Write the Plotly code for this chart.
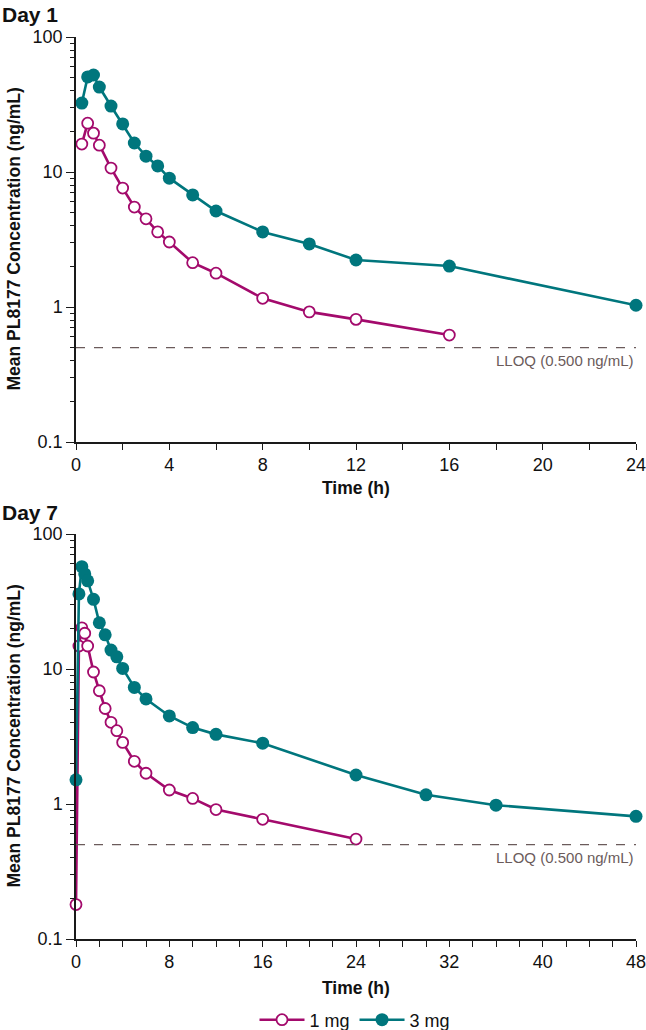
import plotly.graph_objects as go
from plotly.subplots import make_subplots

# ---- Data ----
day1_time_1mg = [0.25, 0.5, 0.75, 1, 1.5, 2, 2.5, 3, 3.5, 4, 5, 6, 8, 10, 12, 16]
day1_conc_1mg = [16.1, 23.0, 19.4, 15.8, 10.7, 7.6, 5.5, 4.5, 3.6, 3.03, 2.13, 1.78, 1.16, 0.92, 0.81, 0.62]
day1_time_3mg = [0.25, 0.5, 0.75, 1, 1.5, 2, 2.5, 3, 3.5, 4, 5, 6, 8, 10, 12, 16, 24]
day1_conc_3mg = [32.4, 50.6, 52.3, 42.6, 30.8, 22.7, 16.4, 13.1, 11.1, 9.0, 6.76, 5.14, 3.6, 2.93, 2.23, 2.01, 1.03]

day7_time_1mg = [0, 0.25, 0.5, 0.75, 1, 1.5, 2, 2.5, 3, 3.5, 4, 5, 6, 8, 10, 12, 16, 24]
day7_conc_1mg = [0.18, 14.8, 20.2, 18.4, 14.8, 9.5, 6.9, 5.1, 4.03, 3.49, 2.86, 2.07, 1.69, 1.27, 1.10, 0.91, 0.77, 0.55]
day7_time_3mg = [0, 0.25, 0.5, 0.75, 1, 1.5, 2, 2.5, 3, 3.5, 4, 5, 6, 8, 10, 12, 16, 24, 30, 36, 48]
day7_conc_3mg = [1.51, 36.0, 57.3, 50.6, 45.0, 32.8, 22.0, 17.9, 13.8, 12.3, 10.1, 7.3, 6.0, 4.49, 3.68, 3.28, 2.82, 1.64, 1.17, 0.98, 0.81]

lloq = 0.5
lloq_label = "LLOQ (0.500 ng/mL)"
panel_titles = ["Day 1", "Day 7"]
y_title = "Mean PL8177 Concentration (ng/mL)"
x_title = "Time (h)"
series_names = ["1 mg", "3 mg"]
y_ticks = [0.1, 1, 10, 100]
y_ticklabels = ["0.1", "1", "10", "100"]
day1_xticks = [0, 4, 8, 12, 16, 20, 24]
day7_xticks = [0, 8, 16, 24, 32, 40, 48]

MAGENTA = "#A30A6C"
TEAL = "#00767D"
LLOQ_COL = "#6B5B5B"
FONT = "Liberation Sans, Arial, Helvetica, sans-serif"
AX = "#1a1a1a"

fig = make_subplots(rows=2, cols=1, vertical_spacing=0.1)

def add_series(t1, c1, t3, c3, row, show):
    fig.add_trace(go.Scatter(
        x=t1, y=c1, mode="lines+markers", name=series_names[0], showlegend=show,
        line=dict(color=MAGENTA, width=2.6),
        marker=dict(symbol="circle", size=11, color="white", line=dict(color=MAGENTA, width=1.8)),
        cliponaxis=False), row=row, col=1)
    fig.add_trace(go.Scatter(
        x=t3, y=c3, mode="lines+markers", name=series_names[1], showlegend=show,
        line=dict(color=TEAL, width=2.6),
        marker=dict(symbol="circle", size=13, color=TEAL, line=dict(color=TEAL, width=0)),
        cliponaxis=False), row=row, col=1)

add_series(day1_time_1mg, day1_conc_1mg, day1_time_3mg, day1_conc_3mg, 1, True)
add_series(day7_time_1mg, day7_conc_1mg, day7_time_3mg, day7_conc_3mg, 2, False)

for row, xmax in [(1, day1_xticks[-1]), (2, day7_xticks[-1])]:
    fig.add_trace(go.Scatter(x=[0, xmax], y=[lloq, lloq], mode="lines", showlegend=False,
                             line=dict(color=LLOQ_COL, width=1.2, dash="dash"), hoverinfo="skip"),
                  row=row, col=1)

minor_y = [m * 10 ** k for k in (-1, 0, 1) for m in range(2, 10)]

axis_common = dict(showline=True, linecolor=AX, linewidth=1.5, showgrid=False, zeroline=False,
                   ticks="outside", tickcolor=AX, tickwidth=1.3, automargin=False,
                   ticklabeloverflow="allow",
                   tickfont=dict(family=FONT, size=18, color="#111"))

fig.update_layout(
    xaxis=dict(range=[0, 24], tickvals=day1_xticks, ticklen=6,
               minor=dict(tickvals=list(range(2, 24, 4)), ticks="outside", ticklen=6, tickcolor=AX, tickwidth=1.3),
               domain=[0, 1], **axis_common),
    xaxis2=dict(range=[0, 48], tickvals=day7_xticks, ticklen=6,
                minor=dict(tickvals=[v for v in range(2, 48, 2) if v % 8 != 0], ticks="outside", ticklen=6, tickcolor=AX, tickwidth=1.3),
                domain=[0, 1], **axis_common),
    yaxis=dict(type="log", range=[-1, 2], tickvals=y_ticks, ticktext=y_ticklabels,
               ticklen=8, minor=dict(tickvals=minor_y, ticks="outside", ticklen=4, tickcolor=AX, tickwidth=1.3),
               domain=[1 - 405 / 902, 1], **axis_common),
    yaxis2=dict(type="log", range=[-1, 2], tickvals=y_ticks, ticktext=y_ticklabels,
                ticklen=8, minor=dict(tickvals=minor_y, ticks="outside", ticklen=4, tickcolor=AX, tickwidth=1.3),
                domain=[0, 405 / 902], **axis_common),
)

H = 902.0
def py(pix):
    return 1 - (pix - 37) / H

PW = 560.0
def px(pix):
    return (pix - 76) / PW

annotations = []
for title, ypix in zip(panel_titles, [14, 512]):
    annotations.append(dict(text="<b>%s</b>" % title, xref="paper", yref="paper", x=px(0), y=py(ypix),
                            xanchor="left", yanchor="middle", showarrow=False,
                            font=dict(family=FONT, size=21, color="#111")))
for ypix in [239.5, 736.5]:
    annotations.append(dict(text="<b>%s</b>" % y_title, xref="paper", yref="paper", x=px(13), y=py(ypix),
                            xanchor="center", yanchor="middle", textangle=-90, showarrow=False,
                            font=dict(family=FONT, size=17.5, color="#111")))
for ypix in [488, 988]:
    annotations.append(dict(text="<b>%s</b>" % x_title, xref="paper", yref="paper", x=px(356), y=py(ypix),
                            xanchor="center", yanchor="middle", showarrow=False,
                            font=dict(family=FONT, size=17.5, color="#111")))
for xr, yr, xmax in [("x", "y", day1_xticks[-1]), ("x2", "y2", day7_xticks[-1])]:
    annotations.append(dict(text=lloq_label, xref=xr, yref=yr, x=xmax, y=-0.301,
                            xanchor="right", yanchor="middle", yshift=-13, showarrow=False,
                            font=dict(family=FONT, size=15, color=LLOQ_COL)))

fig.update_layout(
    width=646, height=1030, autosize=False,
    margin=dict(l=76, r=10, t=37, b=91),
    paper_bgcolor="white", plot_bgcolor="white",
    font=dict(family=FONT, color="#111"),
    annotations=annotations,
    showlegend=True,
    legend=dict(orientation="h", xref="container", x=355 / 646, xanchor="center",
                yref="container", y=1 - 1020 / 1030, yanchor="middle",
                font=dict(family=FONT, size=18, color="#111"), bgcolor="rgba(0,0,0,0)",
                itemwidth=45, tracegroupgap=0),
)

fig.write_html("out.html", config={"responsive": False, "displayModeBar": False},
               post_script=("document.body.style.margin='0';document.body.style.padding='0';"
                            "document.body.style.overflow='hidden';"))
